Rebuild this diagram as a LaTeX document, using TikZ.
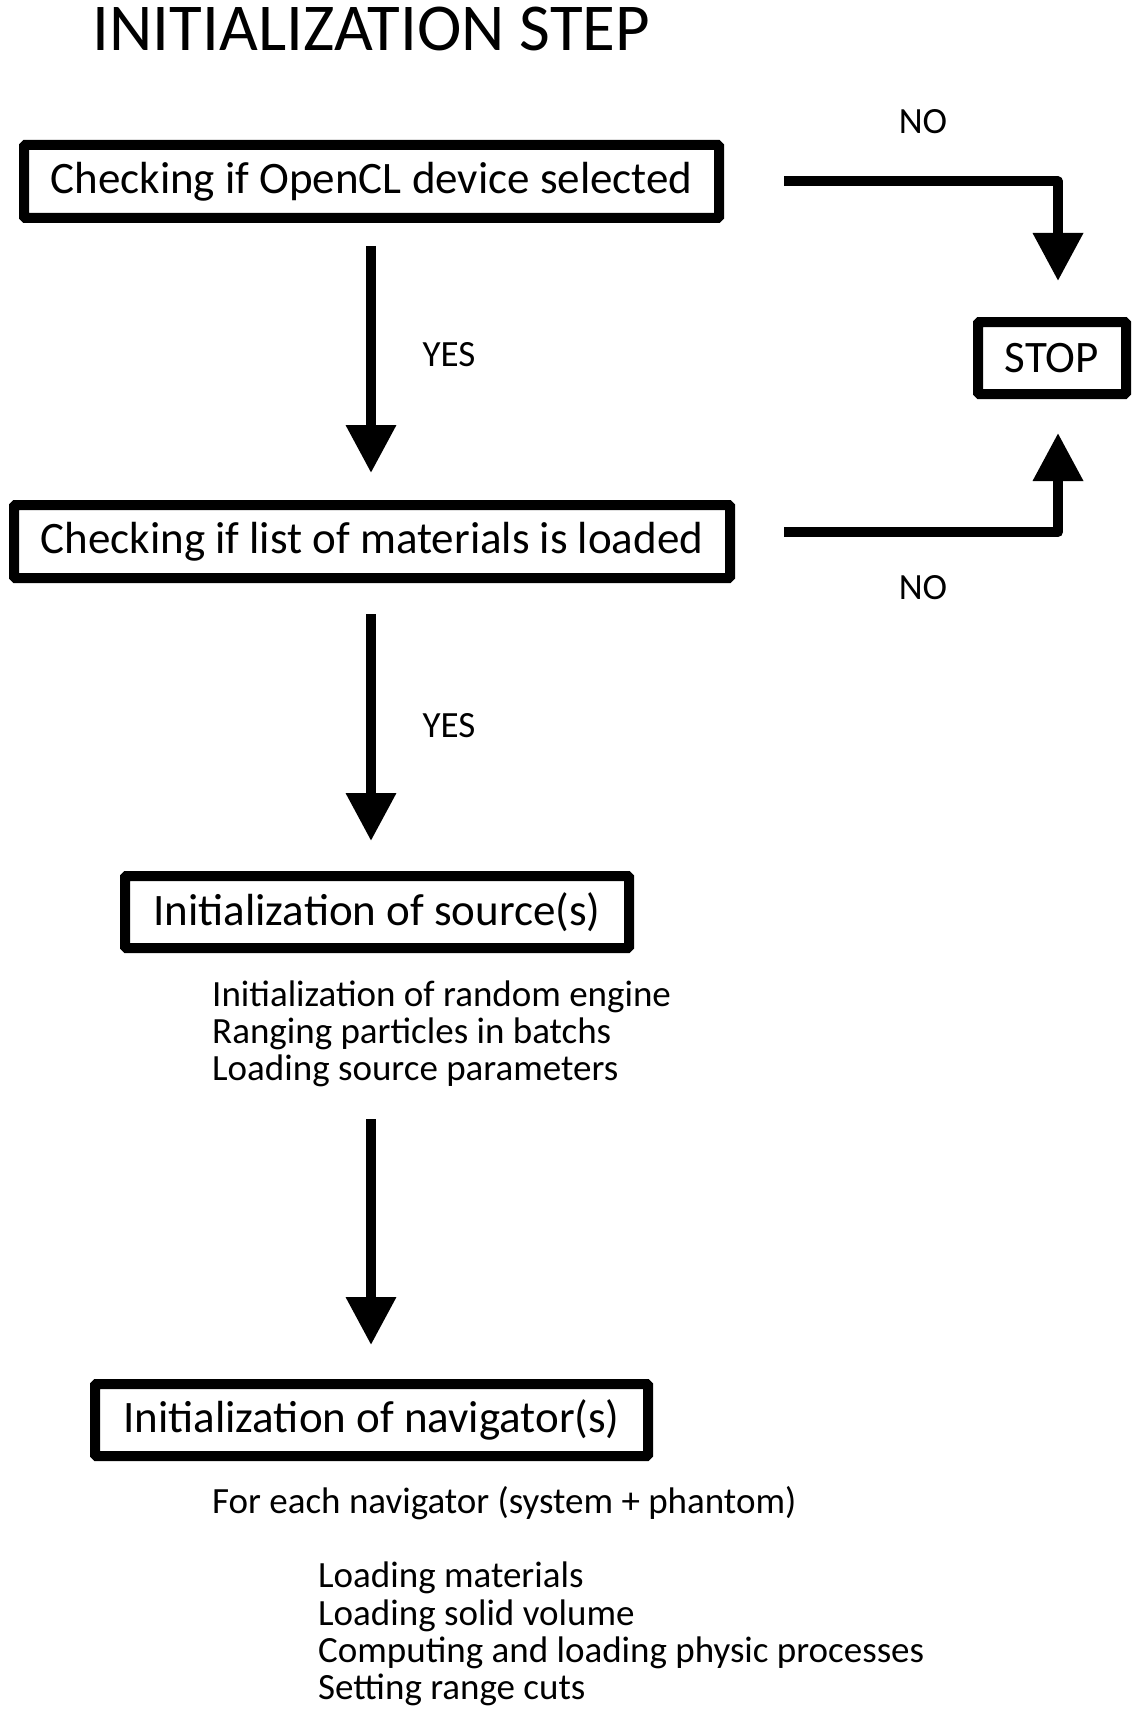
\documentclass[tikz,border=0pt]{standalone}
\usepackage{fontspec}
\setmainfont{Carlito}
\usetikzlibrary{arrows.meta}
\begin{document}
\begin{tikzpicture}[x=1pt,y=-1pt,
  box/.style={draw, line width=10pt, rounded corners=1.5pt, inner sep=0pt, minimum height=73pt, font=\fontsize{45}{52}\selectfont},
  arr/.style={line width=10pt, -{Triangle[width=48pt,length=48pt]}},
  lbl/.style={font=\fontsize{37}{44}\selectfont, inner sep=0pt},
  txt/.style={font=\fontsize{37}{37}\selectfont, inner sep=0pt, anchor=base west}]
\useasboundingbox (0,0) rectangle (1138,1712);
\node[inner sep=0pt, anchor=base, font=\fontsize{67}{72}\selectfont] (title) at (371.5,51) {INITIALIZATION STEP};
\node[box, minimum width=695pt] (b1) at (371.5,181.5) {Checking if OpenCL device selected};
\node[box, minimum width=716pt] (b2) at (372,541.5) {Checking if list of materials is loaded};
\node[box, minimum width=504pt, minimum height=72pt] (b3) at (377,912) {Initialization of source(s)};
\node[box, minimum width=553pt, minimum height=72pt] (b4) at (371.5,1420) {Initialization of navigator(s)};
\node[box, minimum width=148pt, minimum height=72pt] (stop) at (1052,358) {STOP};
\node[lbl] (no1) at (923,122) {NO};
\node[lbl] (no2) at (923,588) {NO};
\node[lbl] (yes1) at (449,355) {YES};
\node[lbl] (yes2) at (449,726) {YES};
\node[txt] (s1) at (212,1006) {Initialization of random engine};
\node[txt] (s2) at (212,1043) {Ranging particles in batchs};
\node[txt] (s3) at (212,1080) {Loading source parameters};
\node[txt] (n0) at (212,1513) {For each navigator (system + phantom)};
\node[txt] (n1) at (318,1587) {Loading materials};
\node[txt] (n2) at (318,1625) {Loading solid volume};
\node[txt] (n3) at (318,1662) {Computing and loading physic processes};
\node[txt] (n4) at (318,1699) {Setting range cuts};
\coordinate (a1s) at (371,246);
\coordinate (a1e) at (371,473);
\coordinate (a2s) at (371,614);
\coordinate (a2e) at (371,841);
\coordinate (a3s) at (371,1119);
\coordinate (a3e) at (371,1345);
\draw[arr] (a1s) -- (a1e);
\draw[arr] (a2s) -- (a2e);
\draw[arr] (a3s) -- (a3e);
\draw[arr, line join=round, shorten <=60pt, shorten >=36pt] (b1.east) -| ([xshift=6pt]stop.north);
\draw[arr, line join=round, shorten <=49pt, shorten >=34pt] ([yshift=9.5pt]b2.east) -| ([xshift=6pt]stop.south);
\end{tikzpicture}
\end{document}
